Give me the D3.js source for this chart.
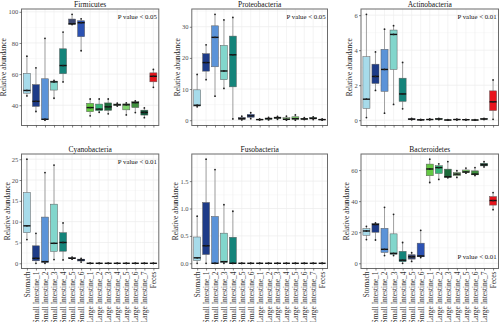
<!DOCTYPE html>
<html>
<head>
<meta charset="utf-8">
<script src="https://cdn.jsdelivr.net/npm/d3@7"></script>
<style>
  body { margin: 0; background: #fff; }
  svg { display: block; font-family: "Liberation Serif", "Times New Roman", serif; }
</style>
</head>
<body>
<svg id="chart" width="500" height="322"></svg>
<script>
// Sampling sites along the gut, in plotting order
const categories = [
  "Stomach",
  "Small Intestine_1", "Small Intestine_2", "Small Intestine_3",
  "Small Intestine_4", "Small Intestine_5", "Small Intestine_6",
  "Large Intestine_1", "Large Intestine_2", "Large Intestine_3",
  "Large Intestine_4", "Large Intestine_5", "Large Intestine_6",
  "Large Intestine_7", "Feces"
];

const siteColors = [
  "#a7dbea",
  "#1d3b88", "#5b93d8", "#82d6cc", "#14847a", "#3d4872", "#2c52b3",
  "#64c843", "#34b577", "#1c6a3a", "#97d38a", "#7fd36c", "#3f903e", "#0d5a3b",
  "#e8141c"
];

// Relative abundance (%) of each phylum, three samples per site
const firmicutes = [
  [46, 49.5, 71.5], [36, 42.5, 64], [30.4, 31, 83], [44.5, 55, 56],
  [55, 65.5, 87], [91.8, 92.3, 98.4], [75, 93, 95.5],
  [33.2, 38.5, 44], [35.5, 37.5, 44], [34.5, 39, 44], [39.5, 40.3, 41.3],
  [33.8, 40.3, 41.5], [35.3, 41.7, 42.8], [32, 35.4, 38.3],
  [51.5, 58.6, 63]
];
const proteobacteria = [
  [4.3, 4.8, 14.7], [13, 18.5, 24.2], [7.7, 26.6, 34], [10.2, 15.8, 32.2],
  [0.4, 21, 33], [0.1, 0.5, 1.3], [0.5, 1.4, 2.4],
  [0.05, 0.2, 0.4], [0.1, 0.5, 0.9], [0.3, 0.8, 1.2], [0, 0.3, 1.3],
  [0, 0.5, 1.7], [0.2, 0.4, 0.8], [0.2, 0.6, 1.1],
  [0, 0.2, 0.4]
];
const actinobacteria = [
  [0.15, 1.2, 6.05], [1.7, 2.5, 3.9], [0.4, 2.9, 5.2], [0.9, 4.9, 5.4],
  [0.65, 1.5, 3.3], [0.02, 0.06, 0.1], [0, 0.02, 0.05],
  [0.02, 0.04, 0.07], [0.03, 0.07, 0.1], [0, 0.01, 0.03], [0.01, 0.04, 0.06],
  [0.01, 0.03, 0.05], [0, 0.01, 0.03], [0.04, 0.07, 0.1],
  [0.05, 1.05, 2.3]
];
const cyanobacteria = [
  [5.7, 9, 25], [0, 1.2, 7.2], [0, 0.4, 21.8], [0.9, 4.8, 23.6],
  [0.8, 5, 9.7], [1.0, 1.2, 1.5], [0.3, 0.8, 1.2],
  [0, 0, 0], [0, 0, 0], [0, 0, 0], [0, 0, 0],
  [0, 0, 0], [0, 0, 0], [0, 0, 0],
  [0, 0, 0]
];
const fusobacteria = [
  [0, 0.1, 0.86], [0, 0.32, 1.9], [0, 0, 1.71], [0, 0.03, 1.07],
  [0, 0, 0.95], [0, 0, 0], [0, 0, 0],
  [0, 0, 0], [0, 0, 0], [0, 0, 0], [0, 0, 0],
  [0, 0, 0], [0, 0, 0], [0, 0, 0],
  [0, 0, 0]
];
const bacteroidetes = [
  [15.3, 20.8, 23.8], [15, 25, 26], [5, 9, 36], [5, 6.4, 31.5],
  [0, 2, 13.4], [1.2, 4.2, 6.8], [3.7, 4.7, 21.2],
  [52, 60.7, 67], [54, 61.6, 64], [55, 55.7, 65.5], [55.3, 57.4, 59.6],
  [58, 58.8, 61.3], [56.5, 57.4, 61.6], [62, 63.4, 65.4],
  [34.5, 40.4, 45.5]
];

// Y-axis tick labels per phylum
const firmicutesTicks = ["40", "60", "80", "100"];
const proteobacteriaTicks = ["0", "10", "20", "30"];
const actinobacteriaTicks = ["0", "2", "4", "6"];
const cyanobacteriaTicks = ["0", "5", "10", "15", "20", "25"];
const fusobacteriaTicks = ["0.0", "0.5", "1.0", "1.5"];
const bacteroidetesTicks = ["0", "20", "40", "60"];

const panels = [
  { title: "Firmicutes",     samples: firmicutes,     ticks: firmicutesTicks,     note: "P value < 0.05", noteAt: "top" },
  { title: "Proteobacteria", samples: proteobacteria, ticks: proteobacteriaTicks, note: "P value < 0.05", noteAt: "top" },
  { title: "Actinobacteria", samples: actinobacteria, ticks: actinobacteriaTicks, note: "P value < 0.01", noteAt: "top" },
  { title: "Cyanobacteria",  samples: cyanobacteria,  ticks: cyanobacteriaTicks,  note: "P value < 0.01", noteAt: "top" },
  { title: "Fusobacteria",   samples: fusobacteria,   ticks: fusobacteriaTicks,   note: null,             noteAt: null },
  { title: "Bacteroidetes",  samples: bacteroidetes,  ticks: bacteroidetesTicks,  note: "P value < 0.01", noteAt: "bottom" }
];

// Panel frames (plot areas) for the 2 x 3 grid
const columns = [[21.5, 158.8], [191.8, 327.5], [361, 498.5]];
const rows = [[9, 125.5], [154, 268.5]];

const FONT = '"Liberation Serif", "Times New Roman", serif';
const svg = d3.select("#chart");

panels.forEach((p, i) => {
  const [left, right] = columns[i % 3];
  const [top, bottom] = rows[Math.floor(i / 3)];
  const withLabels = i >= 3;

  const x = d3.scalePoint().domain(categories).range([left, right]).padding(0.6);
  const step = x.step();
  const all = p.samples.flat();
  const lo = d3.min(all), hi = d3.max(all), pad = (hi - lo) * 0.05;
  const y = d3.scaleLinear().domain([lo - pad, hi + pad]).range([bottom, top]);

  const tickVals = p.ticks.map(Number);
  const tickStep = tickVals[1] - tickVals[0];
  const minor = d3.range(tickVals[0] - tickStep / 2, hi + pad, tickStep)
    .filter(v => v > lo - pad && v < hi + pad);

  const g = svg.append("g");
  g.append("rect").attr("x", left).attr("y", top)
    .attr("width", right - left).attr("height", bottom - top).attr("fill", "#fff");

  // grid
  g.append("g").selectAll("line").data(minor).join("line")
    .attr("x1", left).attr("x2", right)
    .attr("y1", d => y(d)).attr("y2", d => y(d))
    .attr("stroke", "#f3f3f3").attr("stroke-width", 0.5);
  g.append("g").selectAll("line").data(tickVals).join("line")
    .attr("x1", left).attr("x2", right)
    .attr("y1", d => y(d)).attr("y2", d => y(d))
    .attr("stroke", "#e8e8e8").attr("stroke-width", 0.6);
  g.append("g").selectAll("line").data(categories).join("line")
    .attr("x1", d => x(d)).attr("x2", d => x(d))
    .attr("y1", top).attr("y2", bottom)
    .attr("stroke", "#ececec").attr("stroke-width", 0.6);

  // box statistics
  const stats = p.samples.map((s, j) => {
    const v = s.slice().sort(d3.ascending);
    const q1 = d3.quantile(v, 0.25), med = d3.quantile(v, 0.5), q3 = d3.quantile(v, 0.75);
    const iqr = q3 - q1;
    const inside = v.filter(d => d >= q1 - 1.5 * iqr && d <= q3 + 1.5 * iqr);
    return { cat: categories[j], color: siteColors[j], values: v,
             q1, med, q3, lower: d3.min(inside), upper: d3.max(inside) };
  });

  const bw = step * 0.78;
  const boxes = g.append("g").selectAll("g").data(stats).join("g");
  boxes.append("line")
    .attr("x1", d => x(d.cat)).attr("x2", d => x(d.cat))
    .attr("y1", d => y(d.upper)).attr("y2", d => y(d.q3))
    .attr("stroke", "#8c8c8c").attr("stroke-width", 0.8);
  boxes.append("line")
    .attr("x1", d => x(d.cat)).attr("x2", d => x(d.cat))
    .attr("y1", d => y(d.q1)).attr("y2", d => y(d.lower))
    .attr("stroke", "#8c8c8c").attr("stroke-width", 0.8);
  boxes.append("rect")
    .attr("x", d => x(d.cat) - bw / 2).attr("width", bw)
    .attr("y", d => y(d.q3)).attr("height", d => Math.max(0, y(d.q1) - y(d.q3)))
    .attr("fill", d => d.color).attr("stroke", "#5a5a5a").attr("stroke-width", 0.5);
  boxes.append("line")
    .attr("x1", d => x(d.cat) - bw / 2).attr("x2", d => x(d.cat) + bw / 2)
    .attr("y1", d => y(d.med)).attr("y2", d => y(d.med))
    .attr("stroke", "#111").attr("stroke-width", 1.4);
  boxes.selectAll("circle").data(d => d.values.map(v => ({ cat: d.cat, v }))).join("circle")
    .attr("cx", d => x(d.cat)).attr("cy", d => y(d.v)).attr("r", 0.9)
    .attr("fill", "#222");

  // panel border
  g.append("rect").attr("x", left).attr("y", top)
    .attr("width", right - left).attr("height", bottom - top)
    .attr("fill", "none").attr("stroke", "#6b6b6b").attr("stroke-width", 1);

  // y axis
  const ya = svg.append("g").attr("transform", `translate(${left},0)`)
    .call(d3.axisLeft(y).tickValues(tickVals).tickFormat((d, k) => p.ticks[k])
      .tickSize(2).tickPadding(1.3));
  ya.attr("font-family", FONT).attr("font-size", 6.5);
  ya.select(".domain").remove();
  ya.selectAll(".tick line").attr("stroke", "#333").attr("stroke-width", 0.6);
  ya.selectAll(".tick text").attr("fill", "#4d4d4d");

  // x axis
  const xa = svg.append("g").attr("transform", `translate(0,${bottom})`)
    .call(d3.axisBottom(x).tickSize(2).tickFormat(withLabels ? d => d : ""));
  xa.attr("font-family", FONT).attr("font-size", 7.4);
  xa.select(".domain").remove();
  xa.selectAll(".tick line").attr("stroke", "#333").attr("stroke-width", 0.6);
  if (withLabels) {
    xa.selectAll(".tick text")
      .attr("transform", "rotate(-90)")
      .attr("x", -3).attr("y", 0).attr("dy", "0.33em")
      .attr("text-anchor", "end").attr("fill", "#333");
  } else {
    xa.selectAll(".tick text").remove();
  }

  // y title
  let maxW = 0;
  ya.selectAll(".tick text").each(function () { maxW = Math.max(maxW, this.getComputedTextLength()); });
  const titleX = left - 3.3 - maxW - 2;
  svg.append("text")
    .attr("transform", `translate(${titleX},${(top + bottom) / 2}) rotate(-90)`)
    .attr("text-anchor", "middle")
    .attr("font-family", FONT).attr("font-size", 7.4).attr("fill", "#222")
    .text("Relative abundance");

  // panel title
  svg.append("text")
    .attr("x", (left + right) / 2).attr("y", top - 2.5)
    .attr("text-anchor", "middle")
    .attr("font-family", FONT).attr("font-size", 7.5).attr("fill", "#111")
    .text(p.title);

  // significance note
  if (p.note) {
    svg.append("text")
      .attr("x", x("Feces") + 3.5)
      .attr("y", p.noteAt === "top" ? top + 9.5 : bottom - 10)
      .attr("text-anchor", "end")
      .attr("font-family", FONT).attr("font-size", 6.8).attr("fill", "#111")
      .text(p.note);
  }
});
</script>
</body>
</html>
